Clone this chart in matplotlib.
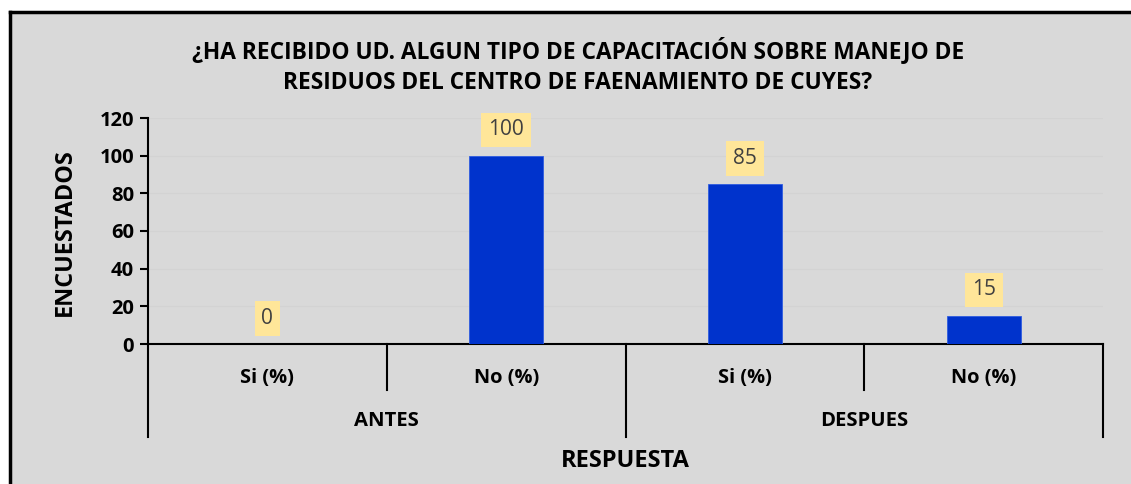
import numpy as np
import matplotlib.pyplot as plt
from matplotlib.patches import Rectangle
from matplotlib.lines import Line2D

# data
categorias = ["Si (%)", "No (%)", "Si (%)", "No (%)"]
grupos = ["ANTES", "DESPUES"]
valores = [0, 100, 85, 15]
yticks = [0, 20, 40, 60, 80, 100, 120]

plt.rcParams['font.family'] = ['Open Sans', 'DejaVu Sans']

W, H = 1131, 484
fig = plt.figure(figsize=(W / 100, H / 100), dpi=100)
fig.patch.set_facecolor('white')

# gray chart area with black border on top and left
fig.add_artist(Rectangle((11 / W, 0), 1, 1 - 13 / H, transform=fig.transFigure,
                         facecolor='#D9D9D9', edgecolor='none', zorder=-10))
fig.add_artist(Line2D([9.5 / W, 1], [1 - 11.5 / H] * 2, color='black', lw=2.5, zorder=-5))
fig.add_artist(Line2D([9.5 / W] * 2, [0, 1 - 11.5 / H], color='black', lw=2.5, zorder=-5))

x0, x1 = 148, 1103
ytop, ybot = 118, 344
ax = fig.add_axes([x0 / W, 1 - ybot / H, (x1 - x0) / W, (ybot - ytop) / H])
ax.set_facecolor('none')

x = np.arange(len(categorias))
ax.bar(x, valores, width=0.31, color='#0033CC', edgecolor='#2F5CE0', linewidth=0.6, zorder=3)
ax.set_xlim(-0.5, len(categorias) - 0.5)
ax.set_ylim(0, 120)
ax.set_yticks(yticks)
ax.set_yticklabels([str(t) for t in yticks], fontsize=14.5, fontweight='bold')
ax.tick_params(axis='y', length=6, width=1.5, direction='out', pad=4)
ax.tick_params(axis='x', length=0, labelbottom=False)
ax.grid(axis='y', color='#D3D3D3', lw=0.8, zorder=0)
for s in ['top', 'right']:
    ax.spines[s].set_visible(False)
ax.spines['left'].set_linewidth(1.5)
ax.spines['bottom'].set_linewidth(1.5)

# data labels
for xi, v in zip(x, valores):
    ax.annotate(str(v), (xi, v), xytext=(0, 11), textcoords='offset points',
                ha='center', va='bottom', fontsize=15, color='#404040',
                bbox=dict(boxstyle='square,pad=0.33', fc='#FFE699', ec='none'), zorder=4)

# multi-level category axis
def py(ypix):
    return 1 - ypix / H

cw = (x1 - x0) / len(categorias)
for i, c in enumerate(categorias):
    fig.text((x0 + cw * (i + 0.5)) / W, py(378), c, ha='center', va='center',
             fontsize=14.4, fontweight='bold')
for j, g in enumerate(grupos):
    fig.text((x0 + cw * (2 * j + 1)) / W, py(421), g, ha='center', va='center',
             fontsize=14.6, fontweight='bold')
# separators
for xp, yend in [(x0, 437), (x0 + cw, 390), (x0 + 2 * cw, 437), (x0 + 3 * cw, 390), (x1, 437)]:
    fig.add_artist(Line2D([xp / W] * 2, [py(344), py(yend)], color='black', lw=1.5))

fig.text((x0 + x1) / 2 / W, py(461), "RESPUESTA", ha='center', va='center',
         fontsize=17, fontweight='bold')
fig.text(65 / W, py(232), "ENCUESTADOS", ha='center', va='center', rotation=90,
         fontsize=16.8, fontweight='bold')
fig.text(578 / W, py(66), "¿HA RECIBIDO UD. ALGUN TIPO DE CAPACITACIÓN SOBRE MANEJO DE\n"
         "RESIDUOS DEL CENTRO DE FAENAMIENTO DE CUYES?", ha='center', va='center',
         fontsize=16.4, fontweight='bold', linespacing=1.35)

fig.savefig('out.png', dpi=100)
